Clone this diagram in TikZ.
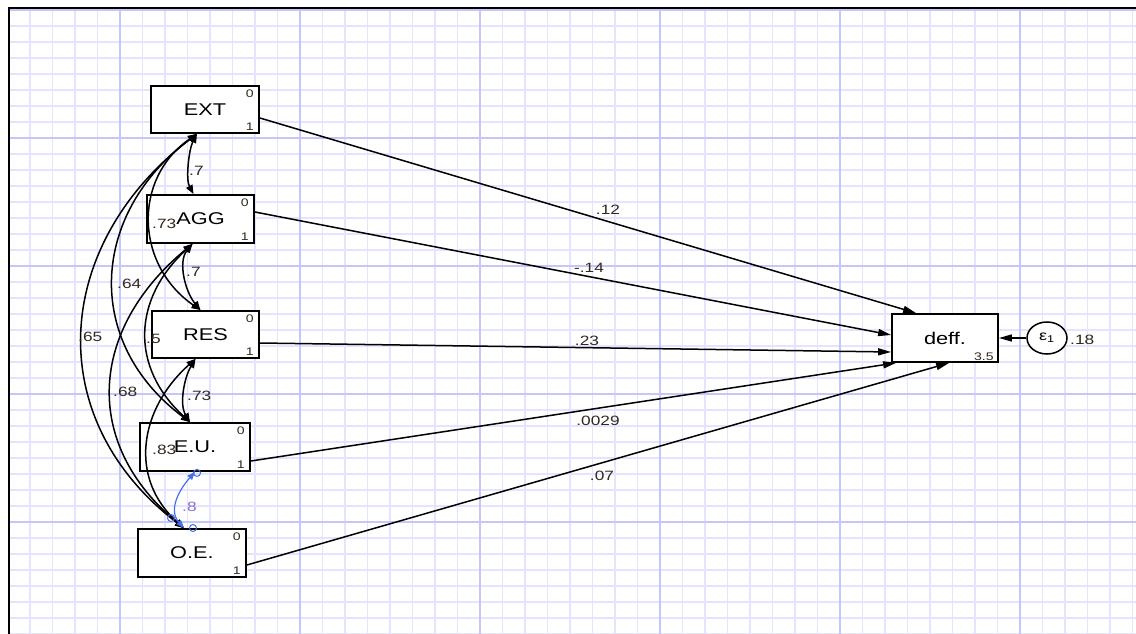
\documentclass[tikz,border=0pt]{standalone}
\usepackage{fontspec}
\setmainfont{Liberation Sans}
\usepackage{graphicx}
\usetikzlibrary{arrows.meta,shapes.geometric}

\definecolor{gridminor}{RGB}{228,228,255}
\definecolor{gridmajor}{RGB}{198,198,255}
\definecolor{lbl}{RGB}{50,40,30}
\definecolor{selblue}{RGB}{70,110,240}
\definecolor{sellbl}{RGB}{140,110,210}

\newcommand{\xwide}[1]{\scalebox{1.28}[1]{#1}}

\tikzset{
  var/.style={draw=black, line width=1.8pt, fill=white, minimum height=47pt,
    inner sep=0pt, font=\fontsize{17}{17}\selectfont},
  reg/.style={line width=1.5pt, -{Triangle[length=13pt,width=7pt]}},
  cov/.style={line width=1.5pt, {Triangle[length=9pt,width=7pt]}-{Triangle[length=9pt,width=7pt]}},
  bcov/.style={line width=1.2pt, draw=selblue, {Triangle[length=8pt,width=6pt]}-{Triangle[length=8pt,width=6pt]}},
  est/.style={font=\fontsize{13.5}{13.5}\selectfont, text=lbl, inner sep=0pt},
  westest/.style={est, anchor=west},
  corner/.style={font=\fontsize{11}{11}\selectfont, text=lbl, inner sep=0pt},
  handle/.style={draw=selblue, line width=1pt},
}

\begin{document}
\begin{tikzpicture}[x=1pt,y=-1pt]
\useasboundingbox (0,0) rectangle (1136,634);
\fill[white] (0,0) rectangle (1136,634);

% grid
\begin{scope}
\clip (9,9) rectangle (1136,634);
\foreach \i in {0,...,50} \draw[gridminor, line width=1.6pt] ({7.5+22.5*\i},0) -- ({7.5+22.5*\i},634);
\foreach \j in {0,...,40} \draw[gridminor, line width=1.6pt] (0,{10+16*\j}) -- (1136,{10+16*\j});
\foreach \i in {0,...,5} \draw[gridmajor, line width=2pt] ({120+180*\i},0) -- ({120+180*\i},634);
\foreach \j in {0,...,4} \draw[gridmajor, line width=2pt] (0,{10+128*\j}) -- (1136,{10+128*\j});
\end{scope}
\draw[line width=2.2pt] (8,8) -- (1136,8);
\draw[line width=2.2pt] (9,8) -- (9,634);

% observed variables
\node[var, minimum width=108pt] (EXT) at (205,109.5) {\xwide{EXT}};
\node[var, minimum width=107pt, minimum height=48pt] (AGG) at (200.5,219) {\xwide{AGG}};
\node[var, minimum width=107pt] (RES) at (205.5,334.5) {\xwide{RES}};
\node[var, minimum width=110pt, minimum height=48pt] (EU) at (195,447) {\xwide{E.U.}};
\node[var, minimum width=108pt, minimum height=48pt] (OE) at (192,553) {\xwide{O.E.}};
\node[var, minimum width=106pt, minimum height=48pt] (deff) at (945,338) {\xwide{deff.}};
\node[draw=black, line width=1.5pt, ellipse, fill=white, minimum width=40pt, minimum height=32pt,
  inner sep=0pt, font=\fontsize{14}{14}\selectfont] (eps) at (1047,338) {\xwide{ε\textsubscript{1}}};

% corner labels
\foreach \n in {EXT,AGG,RES,EU,OE}{
  \node[corner] (\n0) at ([xshift=-10pt,yshift=-9pt]\n.north east) {\xwide{0}};
  \node[corner] (\n1) at ([xshift=-10pt,yshift=7pt]\n.south east) {\xwide{1}};
}
\node[corner, anchor=east] (deffc) at ([xshift=-5pt,yshift=6.5pt]deff.south east) {\xwide{3.5}};
\node[est, anchor=west] (epsv) at (1070,340) {\xwide{.18}};

% structural paths
\draw[reg] ([yshift=-8.5pt]EXT.east) -- ([xshift=25pt]deff.north west);
\draw[reg] ([yshift=7pt]AGG.east) -- ([yshift=3pt]deff.west);
\draw[reg] ([yshift=-8.5pt]RES.east) -- ([yshift=-14pt]deff.west);
\draw[reg] ([yshift=-14pt]EU.east) -- ([xshift=5pt]deff.south west);
\draw[reg] ([yshift=-12pt]OE.east) -- ([xshift=58pt]deff.south west);
\draw[reg] (eps.west) -- (deff.east);

\node[est] (p1) at (608,210) {\xwide{.12}};
\node[est] (p2) at (589,268) {\xwide{-.14}};
\node[est] (p3) at (587,341) {\xwide{.23}};
\node[est] (p4) at (598,421) {\xwide{.0029}};
\node[est] (p5) at (602,476) {\xwide{.07}};

% covariances
\draw[cov] ([xshift=-8pt]EXT.south) .. controls +(-8,15) and +(-8,-15) .. ([xshift=-7pt]AGG.north);
\draw[cov] ([xshift=-8pt]EXT.south) .. controls +(-65,45) and +(-65,-45) .. ([xshift=-5pt]RES.north);
\draw[cov] ([xshift=-8pt]EXT.south) .. controls +(-107,80) and +(-107,-80) .. ([xshift=-5pt]EU.north);
\draw[cov] ([xshift=-8pt]EXT.south) .. controls +(-144,110) and +(-144,-110) .. ([xshift=-8pt]OE.north);
\draw[cov] ([xshift=-8pt]AGG.south) .. controls +(-15,18) and +(-15,-18) .. ([xshift=-5pt]RES.north);
\draw[cov] ([xshift=-8pt]AGG.south) .. controls +(-60,55) and +(-60,-55) .. ([xshift=-5pt]EU.north);
\draw[cov] ([xshift=-8pt]AGG.south) .. controls +(-103,85) and +(-103,-85) .. ([xshift=-8pt]OE.north);
\draw[cov] ([xshift=-10pt]RES.south) .. controls +(-11,18) and +(-11,-18) .. ([xshift=-5pt]EU.north);
\draw[cov] ([xshift=-10pt]RES.south) .. controls +(-56,50) and +(-56,-50) .. ([xshift=-8pt]OE.north);
\draw[bcov] (EU.south) .. controls +(-16,18) and +(-16,-18) .. ([xshift=-8pt]OE.north);

\draw[handle] ([xshift=2pt,yshift=-1pt]EU.south) circle (3.5);
\draw[handle] (171,518) circle (3.5);
\draw[handle] (193,528) circle (3.5);

\node[westest] (c1) at (189,171) {\xwide{.7}};
\node[westest] (c2) at (152,224) {\xwide{.73}};
\node[westest] (c3) at (117,284) {\xwide{.64}};
\node[westest] (c4) at (78,337) {\xwide{.65}};
\node[westest] (c5) at (186,272) {\xwide{.7}};
\node[westest] (c6) at (146,339) {\xwide{.5}};
\node[westest] (c7) at (113,392) {\xwide{.68}};
\node[westest] (c8) at (187,396) {\xwide{.73}};
\node[westest] (c9) at (152,450) {\xwide{.83}};
\node[westest, text=sellbl] (c10) at (182,507) {\xwide{.8}};
\end{tikzpicture}
\end{document}
